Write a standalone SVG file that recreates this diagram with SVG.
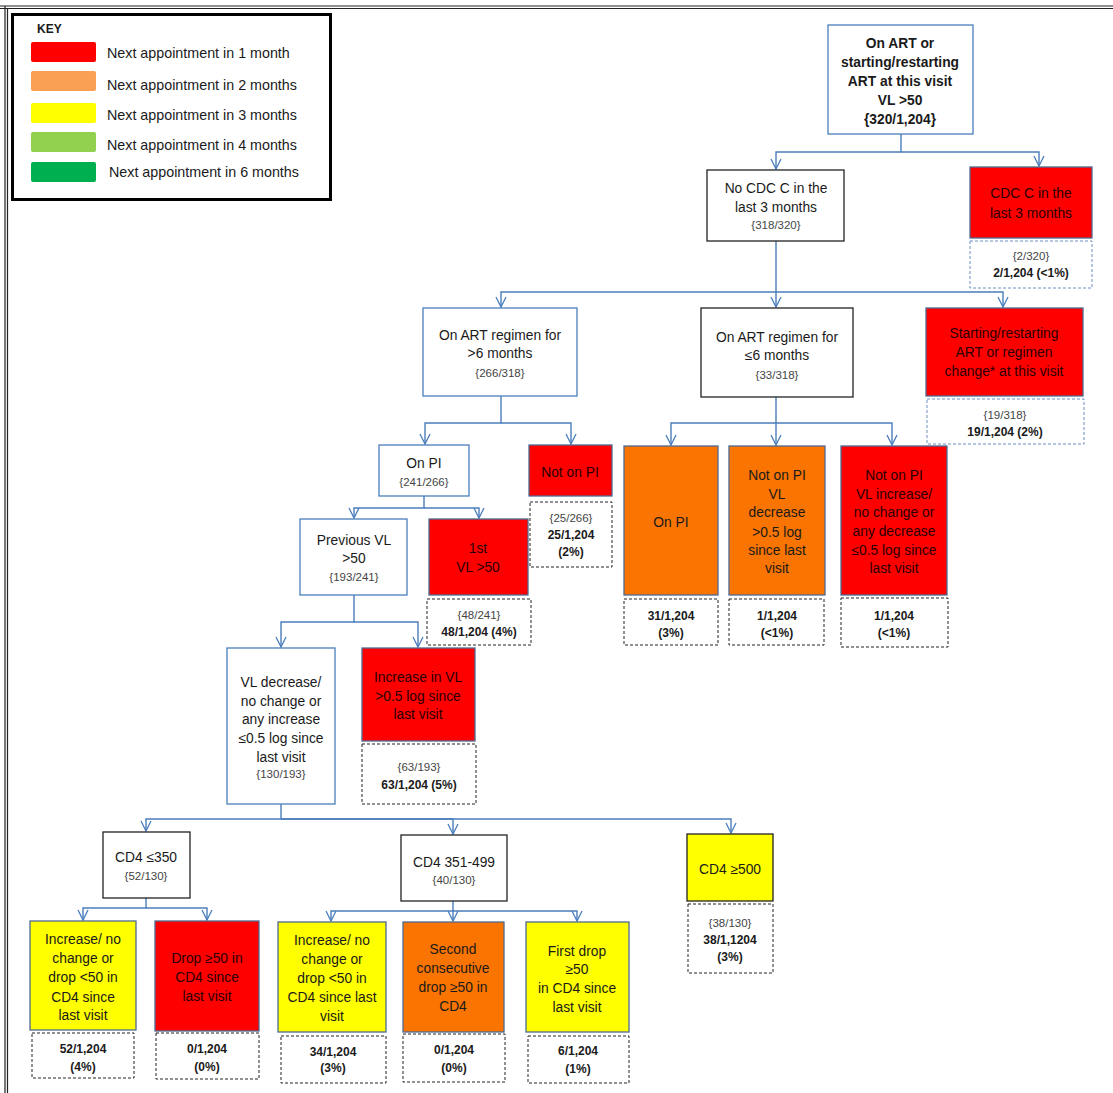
<svg xmlns="http://www.w3.org/2000/svg" width="1113" height="1093" viewBox="0 0 1113 1093">
<style>
text{font-family:"Liberation Sans",Arial,sans-serif;font-size:13.8px;fill:#1a1a1a;text-anchor:middle;dominant-baseline:central}
.kt{text-anchor:start;font-size:14.3px}
.b{font-weight:bold}
.s{font-size:11.5px;fill:#444}
.r{font-size:12px;font-weight:bold}
.nb{fill:#fff;stroke:#4a7ebb;stroke-width:1.3}
.nk{fill:#fff;stroke:#222;stroke-width:1.3}
.red{fill:#ff0000;stroke:#4f6a92;stroke-width:1.3}
.org{fill:#f97400;stroke:#4f6a92;stroke-width:1.3}
.yel{fill:#ffff00;stroke:#4f6a92;stroke-width:1.3}
.yelk{fill:#ffff00;stroke:#222;stroke-width:1.3}
.dk{fill:#fff;stroke:#222;stroke-width:1;stroke-dasharray:3 2}
.db{fill:#fff;stroke:#6d8fc0;stroke-width:1;stroke-dasharray:3 2}
.c{fill:none;stroke:#4a7ebb;stroke-width:1.4;marker-end:url(#arr)}
.rt{fill:#2a0000}
</style>
<defs>
<marker id="arr" markerUnits="userSpaceOnUse" markerWidth="12" markerHeight="12" viewBox="0 0 12 12" refX="11" refY="6" orient="auto">
<path d="M1,1 L11,6 L1,11" fill="none" stroke="#4a7ebb" stroke-width="1.3"/>
</marker>
</defs>
<rect width="1113" height="1093" fill="#fff"/>
<g id="frame" stroke="#222" stroke-width="1.2" fill="none">
<path d="M0,6 H1113 M0,8.5 H1113"/>
<path d="M5,6 V1093 M7.5,8.5 V1093"/>
</g>
<g id="key">
<rect x="12.5" y="14.5" width="318" height="185" fill="#fff" stroke="#000" stroke-width="3"/>
<text x="37" y="29" class="b" style="text-anchor:start;font-size:12px">KEY</text>
<rect x="31" y="42" width="65" height="20" rx="2" fill="#ff0000"/>
<rect x="31" y="71" width="65" height="20" rx="2" fill="#f9a055"/>
<rect x="31" y="103" width="65" height="20" rx="2" fill="#ffff00"/>
<rect x="31" y="132" width="65" height="20" rx="2" fill="#92d050"/>
<rect x="31" y="162" width="65" height="20" rx="2" fill="#00b050"/>
<text class="kt" x="107" y="53">Next appointment in 1 month</text>
<text class="kt" x="107" y="85">Next appointment in 2 months</text>
<text class="kt" x="107" y="115">Next appointment in 3 months</text>
<text class="kt" x="107" y="145">Next appointment in 4 months</text>
<text class="kt" x="109" y="172">Next appointment in 6 months</text>
</g>
<g id="connectors">
<path class="c" d="M901,134 V152 H776 V169"/>
<path class="c" d="M901,152 H1039 V166"/>
<path class="c" d="M776,241 V292 H501 V307"/>
<path class="c" d="M776,292 V307"/>
<path class="c" d="M776,292 H1003 V307"/>
<path class="c" d="M501,396 V423 H425 V444"/>
<path class="c" d="M501,423 H571 V444"/>
<path class="c" d="M776,397 V423 H671 V445"/>
<path class="c" d="M776,423 V445"/>
<path class="c" d="M776,423 H892 V445"/>
<path class="c" d="M424,496 V508 H354 V518"/>
<path class="c" d="M424,508 H479 V518"/>
<path class="c" d="M354,595 V622 H281 V647"/>
<path class="c" d="M354,622 H418 V647"/>
<path class="c" d="M281,804 V819 H146 V831"/>
<path class="c" d="M281,819 H453 V834"/>
<path class="c" d="M281,819 H731 V833"/>
<path class="c" d="M146,898 V908 H83 V920"/>
<path class="c" d="M146,908 H207 V920"/>
<path class="c" d="M453,901 V911 H331 V921"/>
<path class="c" d="M453,911 V921"/>
<path class="c" d="M453,911 H577 V921"/>
</g>
<g id="root">
<rect class="nb" x="828" y="25" width="145" height="109"/>
<text class="b" x="900" y="43">On ART or</text>
<text class="b" x="900" y="62">starting/restarting</text>
<text class="b" x="900" y="81">ART at this  visit</text>
<text class="b" x="900" y="100">VL &gt;50</text>
<text class="b" x="900" y="119">{320/1,204}</text>
</g>
<g id="noCDC">
<rect class="nk" x="707" y="170" width="137" height="71"/>
<text x="776" y="188">No CDC C in the</text>
<text x="776" y="207">last 3 months</text>
<text class="s" x="776" y="225">{318/320}</text>
</g>
<g id="CDC">
<rect class="red" x="970" y="167" width="122" height="71"/>
<text class="rt" x="1031" y="193">CDC C in the</text>
<text class="rt" x="1031" y="213">last 3 months</text>
</g>
<g id="CDC-result">
<rect class="db" x="970" y="241" width="122" height="47"/>
<text class="s" x="1031" y="256">{2/320}</text>
<text class="r" x="1031" y="273">2/1,204 (&lt;1%)</text>
</g>
<g id="gt6">
<rect class="nb" x="423" y="308" width="154" height="88"/>
<text x="500" y="335">On ART regimen for</text>
<text x="500" y="353">&gt;6 months</text>
<text class="s" x="500" y="373">{266/318}</text>
</g>
<g id="le6">
<rect class="nk" x="701" y="308" width="152" height="89"/>
<text x="777" y="337">On ART regimen for</text>
<text x="777" y="355">≤6 months</text>
<text class="s" x="777" y="375">{33/318}</text>
</g>
<g id="starting">
<rect class="red" x="926" y="308" width="157" height="88"/>
<text class="rt" x="1004" y="333">Starting/restarting</text>
<text class="rt" x="1004" y="352">ART or regimen</text>
<text class="rt" x="1004" y="371">change* at this visit</text>
</g>
<g id="starting-result">
<rect class="db" x="927" y="399" width="157" height="45"/>
<text class="s" x="1005" y="415">{19/318}</text>
<text class="r" x="1005" y="432">19/1,204 (2%)</text>
</g>
<g id="onPI">
<rect class="nb" x="379" y="445" width="90" height="51"/>
<text x="424" y="463">On PI</text>
<text class="s" x="424" y="482">{241/266}</text>
</g>
<g id="notOnPI">
<rect class="red" x="529" y="445" width="83" height="51"/>
<text class="rt" x="570" y="472">Not on PI</text>
</g>
<g id="notOnPI-result">
<rect class="dk" x="530" y="502" width="82" height="65"/>
<text class="s" x="571" y="518">{25/266}</text>
<text class="r" x="571" y="535">25/1,204</text>
<text class="r" x="571" y="552">(2%)</text>
</g>
<g id="prevVL">
<rect class="nb" x="300" y="519" width="107" height="76"/>
<text x="354" y="540">Previous VL</text>
<text x="354" y="558">&gt;50</text>
<text class="s" x="354" y="577">{193/241}</text>
</g>
<g id="firstVL">
<rect class="red" x="429" y="519" width="99" height="76"/>
<text class="rt" x="478" y="548">1st</text>
<text class="rt" x="478" y="567">VL &gt;50</text>
</g>
<g id="firstVL-result">
<rect class="dk" x="427" y="599" width="104" height="46"/>
<text class="s" x="479" y="615">{48/241}</text>
<text class="r" x="479" y="632">48/1,204 (4%)</text>
</g>
<g id="onPI6">
<rect class="org" x="624" y="446" width="94" height="149"/>
<text x="671" y="522">On PI</text>
</g>
<g id="onPI6-result">
<rect class="dk" x="624" y="599" width="94" height="46"/>
<text class="r" x="671" y="616">31/1,204</text>
<text class="r" x="671" y="633">(3%)</text>
</g>
<g id="notPIdec">
<rect class="org" x="729" y="446" width="96" height="149"/>
<text x="777" y="475">Not on PI</text>
<text x="777" y="494">VL</text>
<text x="777" y="512">decrease</text>
<text x="777" y="532">&gt;0.5 log</text>
<text x="777" y="550">since last</text>
<text x="777" y="568">visit</text>
</g>
<g id="notPIdec-result">
<rect class="dk" x="729" y="599" width="95" height="46"/>
<text class="r" x="777" y="616">1/1,204</text>
<text class="r" x="777" y="633">(&lt;1%)</text>
</g>
<g id="notPIinc">
<rect class="red" x="841" y="446" width="106" height="149"/>
<text class="rt" x="894" y="475">Not on PI</text>
<text class="rt" x="894" y="494">VL increase/</text>
<text class="rt" x="894" y="512">no change or</text>
<text class="rt" x="894" y="531">any decrease</text>
<text class="rt" x="894" y="550">≤0.5 log since</text>
<text class="rt" x="894" y="568">last visit</text>
</g>
<g id="notPIinc-result">
<rect class="dk" x="841" y="598" width="107" height="49"/>
<text class="r" x="894" y="616">1/1,204</text>
<text class="r" x="894" y="633">(&lt;1%)</text>
</g>
<g id="vlDec">
<rect class="nb" x="227" y="648" width="108" height="156"/>
<text x="281" y="682">VL decrease/</text>
<text x="281" y="701">no change or</text>
<text x="281" y="719">any increase</text>
<text x="281" y="738">≤0.5 log since</text>
<text x="281" y="757">last visit</text>
<text class="s" x="281" y="774">{130/193}</text>
</g>
<g id="vlInc">
<rect class="red" x="362" y="648" width="113" height="93"/>
<text class="rt" x="418" y="677">Increase in VL</text>
<text class="rt" x="418" y="696">&gt;0.5 log since</text>
<text class="rt" x="418" y="714">last visit</text>
</g>
<g id="vlInc-result">
<rect class="dk" x="362" y="744" width="114" height="60"/>
<text class="s" x="419" y="767">{63/193}</text>
<text class="r" x="419" y="785">63/1,204 (5%)</text>
</g>
<g id="cd4low">
<rect class="nk" x="103" y="832" width="87" height="66"/>
<text x="146" y="857">CD4 ≤350</text>
<text class="s" x="146" y="876">{52/130}</text>
</g>
<g id="cd4mid">
<rect class="nk" x="401" y="835" width="106" height="66"/>
<text x="454" y="862">CD4 351-499</text>
<text class="s" x="454" y="880">{40/130}</text>
</g>
<g id="cd4high">
<rect class="yelk" x="687" y="834" width="86" height="67"/>
<text x="730" y="869">CD4  ≥500</text>
</g>
<g id="cd4high-result">
<rect class="dk" x="688" y="904" width="85" height="69"/>
<text class="s" x="730" y="923">{38/130}</text>
<text class="r" x="730" y="940">38/1,1204</text>
<text class="r" x="730" y="957">(3%)</text>
</g>
<g id="low-inc">
<rect class="yel" x="30" y="921" width="106" height="109"/>
<text x="83" y="939">Increase/ no</text>
<text x="83" y="958">change or</text>
<text x="83" y="977">drop &lt;50 in</text>
<text x="83" y="997">CD4 since</text>
<text x="83" y="1015">last visit</text>
</g>
<g id="low-inc-result">
<rect class="dk" x="32" y="1033" width="102" height="45"/>
<text class="r" x="83" y="1049">52/1,204</text>
<text class="r" x="83" y="1067">(4%)</text>
</g>
<g id="low-drop">
<rect class="red" x="155" y="921" width="104" height="110"/>
<text class="rt" x="207" y="958">Drop ≥50 in</text>
<text class="rt" x="207" y="977">CD4 since</text>
<text class="rt" x="207" y="996">last visit</text>
</g>
<g id="low-drop-result">
<rect class="dk" x="156" y="1033" width="103" height="46"/>
<text class="r" x="207" y="1049">0/1,204</text>
<text class="r" x="207" y="1067">(0%)</text>
</g>
<g id="mid-inc">
<rect class="yel" x="278" y="922" width="108" height="110"/>
<text x="332" y="940">Increase/ no</text>
<text x="332" y="959">change or</text>
<text x="332" y="978">drop &lt;50 in</text>
<text x="332" y="997">CD4 since last</text>
<text x="332" y="1016">visit</text>
</g>
<g id="mid-inc-result">
<rect class="dk" x="281" y="1036" width="105" height="47"/>
<text class="r" x="333" y="1052">34/1,204</text>
<text class="r" x="333" y="1068">(3%)</text>
</g>
<g id="mid-second">
<rect class="org" x="403" y="922" width="101" height="110"/>
<text x="453" y="949">Second</text>
<text x="453" y="968">consecutive</text>
<text x="453" y="987">drop ≥50 in</text>
<text x="453" y="1006">CD4</text>
</g>
<g id="mid-second-result">
<rect class="dk" x="403" y="1034" width="102" height="48"/>
<text class="r" x="454" y="1050">0/1,204</text>
<text class="r" x="454" y="1068">(0%)</text>
</g>
<g id="mid-first">
<rect class="yel" x="526" y="922" width="103" height="110"/>
<text x="577" y="951">First drop</text>
<text x="577" y="969">≥50</text>
<text x="577" y="988">in CD4 since</text>
<text x="577" y="1007">last visit</text>
</g>
<g id="mid-first-result">
<rect class="dk" x="528" y="1036" width="101" height="47"/>
<text class="r" x="578" y="1051">6/1,204</text>
<text class="r" x="578" y="1069">(1%)</text>
</g>
</svg>
